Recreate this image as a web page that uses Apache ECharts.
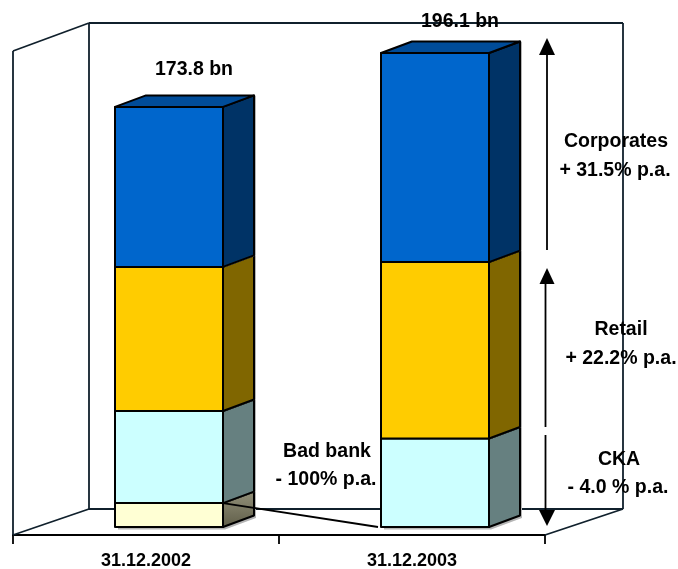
<!DOCTYPE html>
<html>
<head>
<meta charset="utf-8">
<style>html,body{margin:0;padding:0;background:#fff}#c{width:678px;height:569px}</style>
<script src="https://cdn.jsdelivr.net/npm/echarts@6/dist/echarts.min.js"></script>
</head>
<body>
<div id="c"></div>
<script>
var categories = ['31.12.2002', '31.12.2003'];
var badBank = [9.9, 0];
var cka = [38.1, 36.6];
var retail = [59.6, 73.0];
var corporates = [66.2, 86.5];
var totals = ['173.8 bn', '196.1 bn'];

var layers = [
  { name: 'Bad bank', values: badBank, front: '#FFFFD4', side: '#7c7a62' },
  { name: 'CKA', values: cka, front: '#CCFFFF', side: '#668080' },
  { name: 'Retail', values: retail, front: '#FFCC00', side: '#806600' },
  { name: 'Corporates', values: corporates, front: '#0066CC', side: '#003366', top: '#004C99' }
];

var BAR_OFF = 23, BAR_W = 108, DX = 31, DY = 11.5, INK = '#000';

function stackData(idx) {
  return categories.map(function (c, i) {
    var base = 0;
    for (var k = 0; k < idx; k++) base += layers[k].values[i];
    return [i, base, base + layers[idx].values[i]];
  });
}

function face(points, fill) {
  return {
    type: 'polygon',
    shape: { points: points },
    style: { fill: fill, stroke: INK, lineWidth: 2, lineJoin: 'round' }
  };
}

function makeRender(layer) {
  return function (params, api) {
    var lo = api.value(1), hi = api.value(2);
    if (hi - lo <= 0) return { type: 'group', children: [] };
    var a = api.coord([api.value(0), lo]), b = api.coord([api.value(0), hi]);
    var l = a[0] + BAR_OFF - BAR_W / 2, r = l + BAR_W;
    var y0 = a[1], y1 = b[1];
    var kids = [];
    var sideFill = layer.side;
    if (layer.name === 'Bad bank') {
      sideFill = new echarts.graphic.LinearGradient(0, 0, 0, 1, [
        { offset: 0, color: '#93917a' }, { offset: 1, color: '#5f5d48' }
      ]);
    }
    // soft drop shadow to the right, and under the lowest box only
    var drop = lo === 0 ? 2.5 : 0;
    kids.push({
      type: 'polygon',
      shape: { points: [[l + 3, y0 + drop], [r + 2, y0 + drop], [r + DX + 2, y0 - DY + drop], [r + DX + 2, y1 - DY], [r + 2, y1], [l + 3, y1]] },
      style: { fill: '#b5b5b5' }
    });
    kids.push(face([[r, y0], [r + DX, y0 - DY], [r + DX, y1 - DY], [r, y1]], sideFill));
    if (layer.top) {
      kids.push(face([[l, y1], [l + DX, y1 - DY], [r + DX, y1 - DY], [r, y1]], layer.top));
    }
    kids.push(face([[l, y0], [r, y0], [r, y1], [l, y1]], layer.front));
    return { type: 'group', children: kids };
  };
}

function renderConnector(params, api) {
  var from = api.coord([0, badBank[0]]), to = api.coord([1, 0]);
  return {
    type: 'line',
    shape: {
      x1: from[0] + BAR_OFF + BAR_W / 2, y1: from[1],
      x2: to[0] + BAR_OFF - BAR_W / 2 - 3, y2: to[1]
    },
    style: { stroke: INK, lineWidth: 1.8 }
  };
}

var series = layers.map(function (layer, i) {
  return {
    type: 'custom', name: layer.name, z: 2 + i,
    coordinateSystem: 'cartesian2d',
    renderItem: makeRender(layer),
    data: stackData(i),
    encode: { x: 0, y: [1, 2] },
    silent: true
  };
});
series.push({
  type: 'custom', name: 'link', z: 9, coordinateSystem: 'cartesian2d',
  renderItem: renderConnector, data: [[0, 0]], encode: { x: 0, y: 1 }, silent: true
});

var FRAME = '#10202c';
function seg(x1, y1, x2, y2, col, w) {
  return { type: 'line', z: 1, shape: { x1: x1, y1: y1, x2: x2, y2: y2 },
    style: { stroke: col || FRAME, lineWidth: w || 1.8 } };
}
function tri(p) {
  return { type: 'polygon', z: 20, shape: { points: p }, style: { fill: INK } };
}
function arrowSeg(x1, y1, x2, y2) {
  var s = seg(x1, y1, x2, y2, INK, 1.8); s.z = 20; return s;
}
function note(txt, x, y) {
  return { type: 'text', z: 30, x: x, y: y,
    style: { text: txt, fill: '#000', font: 'bold 19.5px "Liberation Sans", Arial, sans-serif',
      align: 'center', verticalAlign: 'middle' } };
}

var graphics = [
  seg(13, 535, 13, 51), seg(13, 51, 89, 23), seg(89, 23, 623, 23),
  seg(89, 23, 89, 509), seg(623, 23, 623, 509), seg(89, 509, 623, 509),
  seg(13, 535, 89, 509), seg(545, 535, 623, 509),
  arrowSeg(547, 54, 547, 250), tri([[547, 38], [539, 55], [555, 55]]),
  arrowSeg(545.5, 282, 545.5, 427), tri([[547, 268], [539.5, 284], [554.5, 284]]),
  arrowSeg(545.5, 435, 545.5, 512), tri([[547, 526], [539, 510], [555, 510]]),
  note(totals[0], 194, 70), note(totals[1], 460, 22),
  note('Corporates', 616, 142), note('+ 31.5% p.a.', 615, 171),
  note('Retail', 621, 330), note('+ 22.2% p.a.', 621, 359),
  note('CKA', 619, 460), note('- 4.0 % p.a.', 618, 488),
  note('Bad bank', 327, 452), note('- 100% p.a.', 326, 480)
];

var chart = echarts.init(document.getElementById('c'), null, { renderer: 'canvas' });
chart.setOption({
  animation: false,
  backgroundColor: '#fff',
  grid: { left: 13, width: 532, top: 43.6, height: 483.4, containLabel: false, outerBoundsMode: 'none' },
  xAxis: {
    type: 'category', data: categories, offset: 8,
    axisLine: { show: true, onZero: false, lineStyle: { color: '#000', width: 2 } },
    axisTick: { show: true, length: 9, alignWithLabel: false, lineStyle: { color: '#000', width: 1.8 } },
    axisLabel: { color: '#000', fontFamily: '"Liberation Sans", Arial, sans-serif', fontWeight: 'bold', fontSize: 18, margin: 17 },
    splitLine: { show: false }
  },
  yAxis: { type: 'value', min: 0, max: 200, show: false, splitLine: { show: false } },
  graphic: { elements: graphics },
  series: series
});
</script>
</body>
</html>
